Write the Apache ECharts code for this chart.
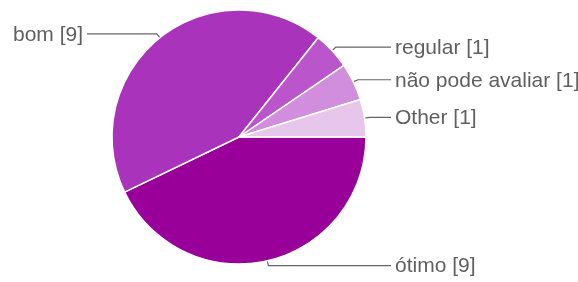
<!DOCTYPE html>
<html>
<head>
<meta charset="utf-8">
<script src="https://cdn.jsdelivr.net/npm/echarts@6/dist/echarts.min.js"></script>
<style>
  html, body { margin: 0; padding: 0; background: #fff; }
  #main { width: 578px; height: 282px; }
</style>
</head>
<body>
<div id="main"></div>
<script>
// dados (sentido horário a partir das 3 horas)
var categorias = ['ótimo', 'bom', 'regular', 'não pode avaliar', 'Other'];
var valores = [9, 9, 1, 1, 1];
var cores = ['#990099', '#aa33bb', '#bb55cc', '#d08edd', '#e6c6eb'];

var myChart = echarts.init(document.getElementById('main'));

var dados = categorias.map(function (nome, i) {
    return { name: nome, value: valores[i], itemStyle: { color: cores[i] } };
});

var option = {
    animation: false,
    series: [{
        type: 'pie',
        center: [239, 137],
        radius: 127,
        startAngle: 0,
        clockwise: true,
        avoidLabelOverlap: true,
        itemStyle: {
            borderColor: '#fff',
            borderWidth: 1.5
        },
        label: {
            formatter: '{b} [{c}]',
            color: '#606060',
            fontSize: 21,
            fontFamily: 'Liberation Sans, Arial, sans-serif'
        },
        labelLine: {
            length: 5,
            length2: 20,
            lineStyle: { color: '#666', width: 1.2 }
        },
        emphasis: { disabled: true },
        labelLayout: function (params) {
            var pts = params.labelLinePoints;
            if (!pts) return {};
            var dir = pts[1][0] < 239 ? -1 : 1;
            var fim = dir > 0 ? 391 : 87;
            return {
                x: dir > 0 ? 395 : 83,
                y: pts[1][1] + 1,
                align: dir > 0 ? 'left' : 'right',
                labelLinePoints: [pts[0], pts[1], [fim, pts[1][1]]]
            };
        },
        data: dados
    }]
};

myChart.setOption(option);
</script>
</body>
</html>
